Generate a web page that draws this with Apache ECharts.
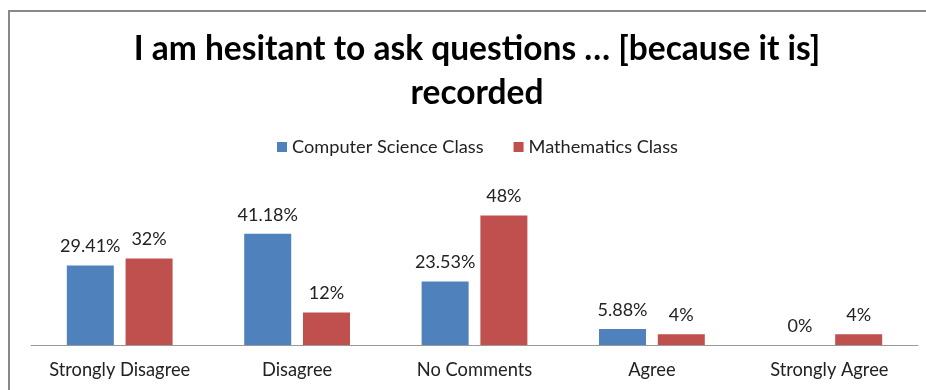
<!DOCTYPE html>
<html>
<head>
<meta charset="utf-8">
<script src="https://cdn.jsdelivr.net/npm/echarts@6/dist/echarts.min.js"></script>
<style>
  html, body { margin: 0; padding: 0; background: #fff; }
  #chart { width: 926px; height: 390px; }
</style>
</head>
<body>
<div id="chart"></div>
<script>
const categories = ['Strongly Disagree', 'Disagree', 'No Comments', 'Agree', 'Strongly Agree'];
const seriesNames = ['Computer Science Class', 'Mathematics Class'];
const csValues = [29.41, 41.18, 23.53, 5.88, 0];
const mathValues = [32, 12, 48, 4, 4];

const FONT = 'Lato, "Open Sans", sans-serif';
const chart = echarts.init(document.getElementById('chart'), null, { renderer: 'canvas' });

const labelFmt = p => (Math.round(p.value * 100) / 100) + '%';

chart.setOption({
  animation: false,
  backgroundColor: '#fff',
  title: {
    text: 'I am hesitant to ask questions \u2026 [because it is]\nrecorded',
    left: 472,
    textAlign: 'center',
    top: 22,
    textStyle: { fontFamily: FONT, fontSize: 33.5, fontWeight: 'bold', color: '#000', lineHeight: 44 }
  },
  legend: {
    top: 133,
    left: 272,
    itemWidth: 10,
    itemHeight: 10,
    itemGap: 30,
    icon: 'rect',
    textStyle: { fontFamily: FONT, fontSize: 18.2, color: '#222' },
    data: seriesNames
  },
  grid: { left: 31, right: 8, top: 210, bottom: 45 },
  xAxis: {
    type: 'category',
    data: categories,
    axisLine: { lineStyle: { color: '#999', width: 1 } },
    axisTick: { show: false },
    axisLabel: { interval: 0, fontFamily: FONT, fontSize: 18.3, color: '#222', margin: 16 }
  },
  yAxis: {
    type: 'value',
    min: 0,
    max: 50,
    show: false,
    splitLine: { show: false }
  },
  series: [
    {
      name: seriesNames[0],
      type: 'bar',
      data: csValues,
      barWidth: '26.5%',
      barGap: '25%',
      itemStyle: { color: '#4F81BD' },
      label: { show: true, position: 'top', distance: 10, formatter: labelFmt, fontFamily: FONT, fontSize: 18, color: '#222' }
    },
    {
      name: seriesNames[1],
      type: 'bar',
      data: mathValues,
      barWidth: '26.5%',
      itemStyle: { color: '#C0504D' },
      label: { show: true, position: 'top', distance: 10, formatter: labelFmt, fontFamily: FONT, fontSize: 18, color: '#222' }
    }
  ],
  graphic: [
    {
      type: 'rect',
      shape: { x: 9, y: 11, width: 940, height: 400 },
      style: { fill: null, stroke: '#888', lineWidth: 2 },
      silent: true
    }
  ]
});
</script>
</body>
</html>
